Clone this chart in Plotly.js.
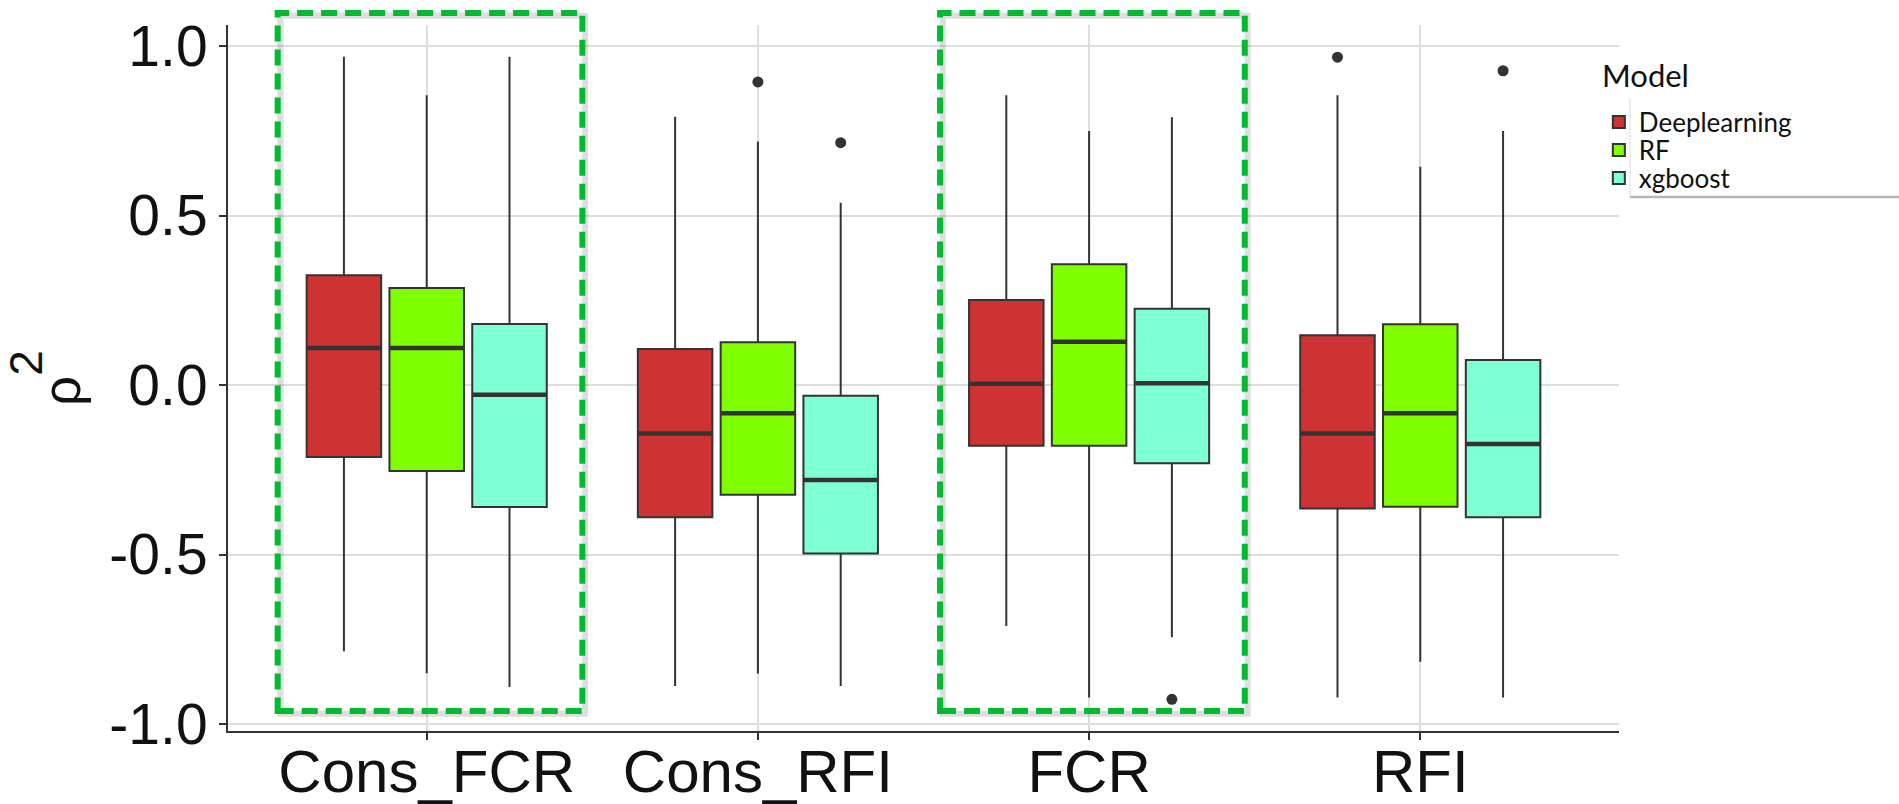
<!DOCTYPE html>
<html>
<head>
<meta charset="utf-8">
<script src="https://cdn.plot.ly/plotly-3.0.1.min.js"></script>
<style>html,body{margin:0;padding:0;background:#fff;}#chart{width:1899px;height:804px;}</style>
</head>
<body>
<div id="chart"></div>
<script>
// ---- data ----
var categories = ['Cons_FCR', 'Cons_RFI', 'FCR', 'RFI'];
var models = ['Deeplearning', 'RF', 'xgboost'];
var modelColors = ['#CD3333', '#7FFF00', '#7FFFD4'];

var dlLower  = [-0.785, -0.888, -0.711, -0.922];
var dlQ1     = [-0.212, -0.390, -0.179, -0.364];
var dlMedian = [ 0.109, -0.143,  0.004, -0.143];
var dlQ3     = [ 0.324,  0.106,  0.251,  0.147];
var dlUpper  = [ 0.968,  0.791,  0.855,  0.855];
var dlOut    = [[], [], [], [0.967]];

var rfLower  = [-0.850, -0.851, -0.922, -0.816];
var rfQ1     = [-0.254, -0.324, -0.179, -0.359];
var rfMedian = [ 0.109, -0.083,  0.128, -0.083];
var rfQ3     = [ 0.286,  0.126,  0.356,  0.179];
var rfUpper  = [ 0.855,  0.718,  0.749,  0.644];
var rfOut    = [[], [0.894], [], []];

var xgLower  = [-0.891, -0.888, -0.744, -0.922];
var xgQ1     = [-0.360, -0.497, -0.231, -0.390];
var xgMedian = [-0.029, -0.280,  0.005, -0.174];
var xgQ3     = [ 0.180, -0.032,  0.225,  0.074];
var xgUpper  = [ 0.968,  0.538,  0.790,  0.749];
var xgOut    = [[], [0.715], [-0.927], [0.927]];

var yTickVals = [-1, -0.5, 0, 0.5, 1];
var yTickText = ['-1.0', '-0.5', '0.0', '0.5', '1.0'];
var highlighted = ['Cons_FCR', 'FCR'];

// ---- build traces ----
var stats = [
  {lf: dlLower, q1: dlQ1, med: dlMedian, q3: dlQ3, uf: dlUpper, out: dlOut},
  {lf: rfLower, q1: rfQ1, med: rfMedian, q3: rfQ3, uf: rfUpper, out: rfOut},
  {lf: xgLower, q1: xgQ1, med: xgMedian, q3: xgQ3, uf: xgUpper, out: xgOut}
];
var legendIds = ['legend', 'legend2', 'legend3'];
var BOXGAP = 0.25, BOXGROUPGAP = 0.1;
var edge = '#333333';
var traces = [];
models.forEach(function (m, i) {
  var s = stats[i];
  traces.push({
    type: 'box', name: m, x: categories, legend: legendIds[i],
    q1: s.q1, median: s.med, q3: s.q3, lowerfence: s.lf, upperfence: s.uf,
    fillcolor: modelColors[i], line: {color: edge, width: 2},
    whiskerwidth: 0, boxpoints: false,
    offsetgroup: m, alignmentgroup: 'g', hoverinfo: 'skip'
  });
});
// thicker median lines (same slots)
models.forEach(function (m, i) {
  var s = stats[i];
  traces.push({
    type: 'box', name: m + ' median', x: categories,
    q1: s.med, median: s.med, q3: s.med, lowerfence: s.med, upperfence: s.med,
    fillcolor: 'rgba(0,0,0,0)', line: {color: edge, width: 4.5},
    whiskerwidth: 0, boxpoints: false, showlegend: false,
    offsetgroup: m, alignmentgroup: 'g', hoverinfo: 'skip'
  });
});
// outlier points, placed at each model's dodged slot on an overlaid numeric axis
var slot = (1 - BOXGAP) / models.length;
var ox = [], oy = [];
models.forEach(function (m, i) {
  stats[i].out.forEach(function (vals, k) {
    vals.forEach(function (v) {
      ox.push(k + (i - (models.length - 1) / 2) * slot);
      oy.push(v);
    });
  });
});
traces.push({
  type: 'scatter', mode: 'markers', x: ox, y: oy, xaxis: 'x2', yaxis: 'y',
  marker: {color: edge, size: 11}, showlegend: false, hoverinfo: 'skip'
});

// ---- layout ----
var xRange = [-0.6, categories.length - 1 + 0.6];
function catToPaper(v) { return (v - xRange[0]) / (xRange[1] - xRange[0]); }
var shapes = [];
highlighted.forEach(function (c) {
  var k = categories.indexOf(c);
  var x0 = catToPaper(k - 0.45), x1 = catToPaper(k + 0.47);
  shapes.push({type: 'rect', xref: 'paper', yref: 'paper', x0: x0 + 0.002, x1: x1 + 0.002,
    y0: 0.0283 - 0.004, y1: 1.017 - 0.004, line: {color: 'rgba(0,0,0,0.13)', width: 6}, layer: 'above'});
  shapes.push({type: 'rect', xref: 'paper', yref: 'paper', x0: x0, x1: x1, y0: 0.0283, y1: 1.017,
    line: {color: '#00BB2D', width: 6, dash: '16px,8px'}, layer: 'above'});
});
// white panel behind legend texts
shapes.push({type: 'rect', xref: 'paper', yref: 'paper', x0: 1.0079, x1: 1.21, y0: 0.7578, y1: 0.8966,
  fillcolor: '#ffffff', line: {width: 0}, layer: 'above'});
shapes.push({type: 'line', xref: 'paper', yref: 'paper', x0: 1.0079, x1: 1.21, y0: 0.7565, y1: 0.7565,
  line: {color: '#b5b5b5', width: 2.5}, layer: 'above'});
shapes.push({type: 'line', xref: 'paper', yref: 'paper', x0: 1.0079, x1: 1.0079, y0: 0.7565, y1: 0.8966,
  line: {color: '#dddddd', width: 1}, layer: 'above'});

var legFont = {family: 'Lato, sans-serif', size: 26, color: '#111111'};
var legendRowY = [0.8626, 0.8229, 0.7833];
function legendAt(y) {
  return {x: 0.9855, xanchor: 'left', y: y, yanchor: 'middle', bgcolor: 'rgba(0,0,0,0)',
          borderwidth: 0, font: legFont, tracegroupgap: 0};
}

var layout = {
  width: 1899, height: 804,
  margin: {l: 228, r: 280, t: 25, b: 73, pad: 0},
  paper_bgcolor: '#ffffff', plot_bgcolor: '#ffffff',
  boxmode: 'group', boxgap: BOXGAP, boxgroupgap: BOXGROUPGAP,
  font: {family: 'Liberation Sans, Arial, sans-serif', color: '#111111'},
  xaxis: {
    type: 'category', categoryorder: 'array', categoryarray: categories,
    range: xRange, showgrid: true, gridcolor: '#dedede', gridwidth: 2,
    showline: true, linecolor: '#333333', linewidth: 2,
    ticks: 'outside', ticklen: 7, tickwidth: 2, tickcolor: '#333333',
    ticklabelstandoff: -20,
    tickfont: {size: 60, family: 'Liberation Sans, Arial, sans-serif', color: '#111111'},
    zeroline: false, fixedrange: true
  },
  xaxis2: {
    overlaying: 'x', range: xRange, visible: false, showgrid: false, zeroline: false, fixedrange: true
  },
  yaxis: {
    range: [-1.0206, 1.062], tickmode: 'array', tickvals: yTickVals, ticktext: yTickText,
    showgrid: true, gridcolor: '#dedede', gridwidth: 2,
    showline: true, linecolor: '#333333', linewidth: 2,
    ticks: 'outside', ticklen: 7, tickwidth: 2, tickcolor: '#333333',
    tickfont: {size: 57, family: 'Liberation Sans, Arial, sans-serif', color: '#111111'},
    zeroline: false, fixedrange: true,
    title: {text: 'ρ<sup><sup><span style="font-size:46px">2</span></sup></sup>', font: {size: 53, family: 'Liberation Sans, Arial, sans-serif', color: '#111111'}, standoff: 22}
  },
  showlegend: true,
  legend: legendAt(legendRowY[0]),
  legend2: legendAt(legendRowY[1]),
  legend3: legendAt(legendRowY[2]),
  annotations: [{
    text: 'Model', xref: 'paper', yref: 'paper', x: 0.9864, y: 0.929,
    xanchor: 'left', yanchor: 'middle', showarrow: false,
    font: {family: 'Lato, sans-serif', size: 31, color: '#111111'}
  }],
  shapes: shapes
};

Plotly.newPlot('chart', traces, layout, {staticPlot: true, displayModeBar: false});
</script>
</body>
</html>
